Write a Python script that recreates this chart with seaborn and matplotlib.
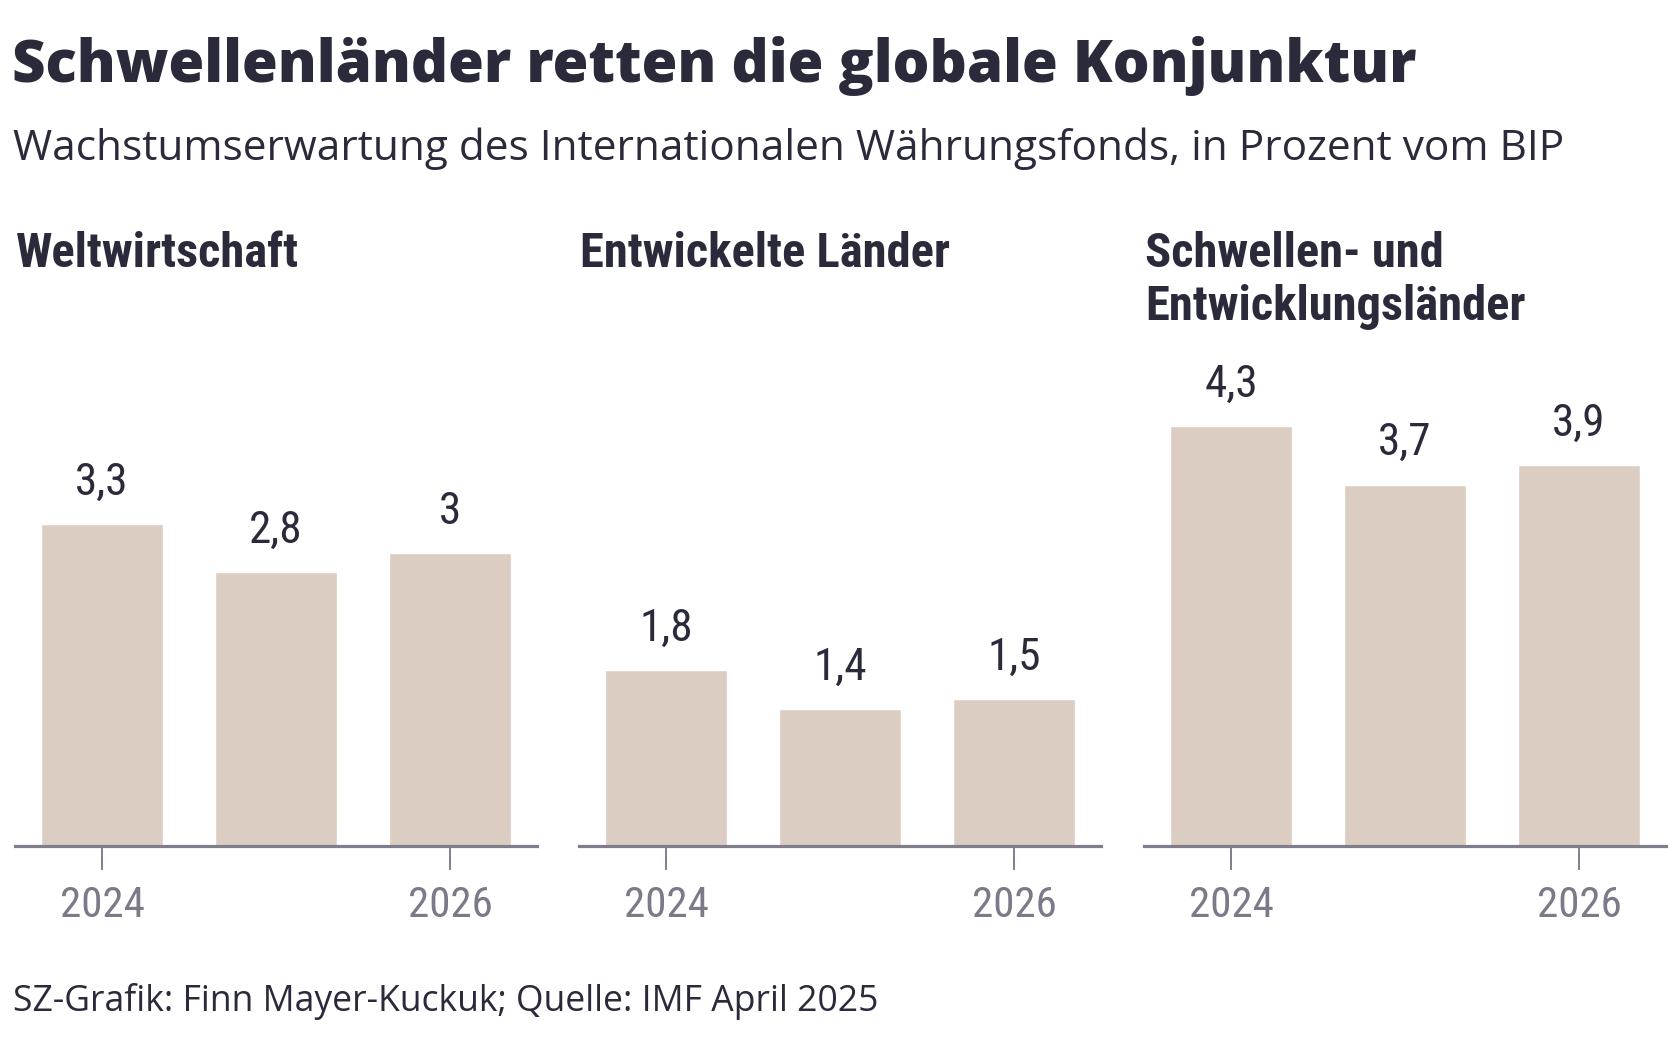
import os
import pandas as pd
import seaborn as sns
import matplotlib
matplotlib.use('Agg')
import matplotlib.pyplot as plt
from matplotlib import font_manager as fm

# =============================================================================
# DATA
# =============================================================================
title = "Schwellenländer retten die globale Konjunktur"
subtitle = "Wachstumserwartung des Internationalen Währungsfonds, in Prozent vom BIP"
footer = "SZ-Grafik: Finn Mayer-Kuckuk; Quelle: IMF April 2025"

panel_titles = [["Weltwirtschaft"],
                ["Entwickelte Länder"],
                ["Schwellen- und", "Entwicklungsländer"]]
years = ["2024", "2025", "2026"]
tick_years = ["2024", "2026"]
world = [3.3, 2.8, 3.0]
advanced = [1.8, 1.4, 1.5]
emerging = [4.3, 3.7, 3.9]
series = [world, advanced, emerging]

# =============================================================================
# STYLE
# =============================================================================
DARK = '#2a2a3b'
BAR = '#dbcdc2'
AXIS = '#807e8c'
TICKLBL = '#7c7a88'

sns.set_theme(style='white')
plt.rcParams['font.family'] = ['Open Sans', 'DejaVu Sans']


def wnum(w):
    if isinstance(w, (int, float)):
        return w
    return fm.weight_dict.get(w, 400)


def find_condensed(weight):
    fam_order = ['roboto', 'open sans', 'noto sans', 'liberation sans', 'dejavu sans']
    best, best_score = None, None
    for f in fm.fontManager.ttflist:
        base = os.path.basename(f.fname).lower()
        name = f.name.lower()
        tag = name + ' ' + base
        cond = 'condensed' in tag or 'narrow' in tag or f.stretch in ('condensed', 'semi-condensed')
        if not cond:
            continue
        if 'italic' in tag or 'oblique' in tag or f.style != 'normal':
            continue
        if 'extracondensed' in base or 'ultra' in tag:
            continue
        rank = next((i for i, fam in enumerate(fam_order) if name.startswith(fam)), len(fam_order))
        score = (rank, 'semi' in tag, abs(wnum(f.weight) - weight))
        if best_score is None or score < best_score:
            best, best_score = f.fname, score
    return best


def cond_font(weight, size):
    path = find_condensed(weight)
    if path:
        return fm.FontProperties(fname=path, size=size)
    return fm.FontProperties(family='DejaVu Sans', weight=weight, size=size)


head_fp = cond_font(700, 35)
value_fp = cond_font(400, 32.5)
tick_fp = cond_font(400, 31)

# =============================================================================
# FIGURE
# =============================================================================
W, H = 1680, 1041
fig = plt.figure(figsize=(W / 100, H / 100), dpi=100)


def fx(px):
    return px / W


def fy(py):
    return 1 - py / H


fig.text(fx(12), fy(82), title, fontsize=41.8, fontweight=800, color=DARK, va='baseline')
fig.text(fx(13), fy(160), subtitle, fontsize=30.5, color=DARK, va='baseline')
fig.text(fx(13), fy(1011), footer, fontsize=25.6, color=DARK, va='baseline')

px_per_unit = 97.7
ymax = 5.0
base_y = 846
panel_left = [15, 579, 1144]
panel_w = 522

for i, vals in enumerate(series):
    left = panel_left[i]
    ax = fig.add_axes([fx(left), fy(base_y), panel_w / W, ymax * px_per_unit / H])
    df = pd.DataFrame({'Jahr': years, 'Wert': vals})
    sns.barplot(data=df, x='Jahr', y='Wert', ax=ax, color=BAR, saturation=1, width=0.7)
    ax.set_xlim(-0.5, 2.5)
    ax.set_ylim(0, ymax)
    ax.set_xlabel('')
    ax.set_ylabel('')
    ax.set_yticks([])
    for s in ['top', 'left', 'right']:
        ax.spines[s].set_visible(False)
    ax.spines['bottom'].set_color(AXIS)
    ax.spines['bottom'].set_linewidth(2.3)
    ax.spines['bottom'].set_zorder(5)
    ax.set_xticks([years.index(t) for t in tick_years], tick_years)
    ax.tick_params(axis='x', bottom=True, length=17, width=1.4, color=AXIS, pad=11,
                   labelcolor=TICKLBL)
    for lbl in ax.get_xticklabels():
        lbl.set_fontproperties(tick_fp)

    # value labels
    for j, v in enumerate(vals):
        txt = f"{v:g}".replace('.', ',')
        ax.annotate(txt, (j, v), xytext=(0, 21), textcoords='offset points',
                    ha='center', va='baseline', color=DARK, fontproperties=value_fp)

    # panel headline
    for k, line in enumerate(panel_titles[i]):
        fig.text(fx(left + 1), fy(267 + 53 * k), line, color=DARK,
                 fontproperties=head_fp, va='baseline')

fig.savefig('out.png', dpi=100)
print("[✓] Chart saved: out.png")
